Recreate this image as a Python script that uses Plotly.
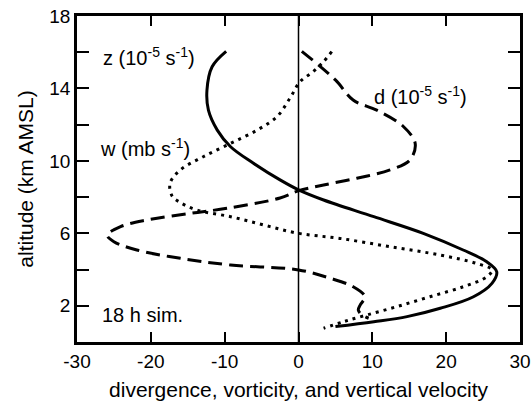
import plotly.graph_objects as go

# vorticity z (10^-5 s^-1)
z_x = [-9.8, -11.7, -12.4, -12.2, -11.0, -9.2, -6.1, -2.5, 0.0, 3.4, 10.2, 16.9, 22.3, 25.5, 26.85, 26.2, 23.7, 19.2, 14.7, 10.2, 5.0]
z_y = [16.05, 15.2, 13.9, 12.8, 11.7, 10.78, 9.87, 8.95, 8.4, 7.84, 6.92, 6.0, 5.08, 4.43, 3.88, 3.24, 2.5, 1.86, 1.4, 1.12, 0.85]

# vertical velocity w (mb s^-1)
w_x = [4.5, 3.4, 2.0, 0.2, -1.1, -2.9, -5.6, -9.2, -12.9, -16.0, -17.4, -17.1, -16.0, -13.8, -9.2, -4.7, 0.0, 5.6, 12.4, 19.2, 24.1, 26.2, 25.5, 22.3, 17.8, 13.3, 9.25, 6.1, 3.4]
w_y = [16.03, 15.48, 14.93, 14.37, 13.5, 12.45, 11.7, 10.97, 10.23, 9.5, 8.76, 8.05, 7.7, 7.29, 6.92, 6.46, 6.0, 5.72, 5.26, 4.8, 4.34, 3.98, 3.6, 3.05, 2.5, 1.95, 1.49, 1.12, 0.76]

# divergence d (10^-5 s^-1)
d_x = [0.45, 5.0, 7.4, 10.6, 14.2, 15.8, 15.1, 12.4, 7.9, 3.4, 0.0, -2.5, -9.7, -14.7, -20.5, -24.1, -25.9, -25.0, -21.9, -16.0, -9.2, 0.0, 4.3, 7.4, 9.0, 8.35, 8.1, 8.6, 9.5]
d_y = [16.05, 14.47, 13.36, 12.8, 11.9, 10.97, 10.05, 9.5, 9.04, 8.67, 8.35, 7.95, 7.38, 7.1, 6.74, 6.37, 5.9, 5.54, 5.08, 4.62, 4.25, 3.98, 3.52, 3.05, 2.5, 2.04, 1.77, 1.49, 1.31]

x_range = [-30, 30]
y_range = [0, 18]
x_ticks = [-30, -20, -10, 0, 10, 20, 30]
y_ticks = [2, 4, 6, 8, 10, 12, 14, 16, 18]
y_labels = ["2", " ", "6", " ", "10", " ", "14", " ", "18"]

FONT = "Liberation Sans, Arial, Helvetica, sans-serif"

fig = go.Figure()
fig.add_trace(go.Scatter(x=z_x, y=z_y, mode="lines",
                         line=dict(color="black", width=3, shape="spline", smoothing=1.0), showlegend=False))
fig.add_trace(go.Scatter(x=w_x, y=w_y, mode="lines",
                         line=dict(color="black", width=3, dash="3px,5px", shape="spline", smoothing=1.0), showlegend=False))
fig.add_trace(go.Scatter(x=d_x, y=d_y, mode="lines",
                         line=dict(color="black", width=3, dash="14px,7px", shape="spline", smoothing=1.0), showlegend=False))

# zero line
fig.add_shape(type="line", x0=0, x1=0, y0=y_range[0], y1=y_range[1], xref="x", yref="y",
              line=dict(color="black", width=1.5))

ann = [
    ("z (10<sup>-5</sup> s<sup>-1</sup>)", -26.7, 15.75),
    ("w (mb s<sup>-1</sup>)", -27.1, 10.75),
    ("d (10<sup>-5</sup> s<sup>-1</sup>)", 10.0, 13.6),
    ("18 h sim.", -26.9, 1.5),
]
for t, x, y in ann:
    fig.add_annotation(text=t, x=x, y=y, xref="x", yref="y", xanchor="left", yanchor="middle",
                       showarrow=False, font=dict(family=FONT, size=20, color="black"))

fig.update_xaxes(range=x_range, tickmode="array", tickvals=x_ticks, ticktext=[str(v) for v in x_ticks],
                 ticks="inside", ticklen=10, tickwidth=2, tickcolor="black",
                 showline=True, linewidth=2.5, linecolor="black", mirror="ticks",
                 showgrid=False, zeroline=False, automargin=False, ticklabeloverflow="allow",
                 tickfont=dict(family=FONT, size=19, color="black"),
                 title=dict(text="divergence, vorticity, and vertical velocity",
                            font=dict(family=FONT, size=21, color="black"), standoff=12))
fig.update_yaxes(range=y_range, tickmode="array", tickvals=y_ticks, ticktext=y_labels,
                 ticks="inside", ticklen=12, tickwidth=2, tickcolor="black",
                 showline=True, linewidth=2.5, linecolor="black", mirror="ticks",
                 showgrid=False, zeroline=False, automargin=False, ticklabeloverflow="allow",
                 tickfont=dict(family=FONT, size=19, color="black"),
                 title=dict(text="altitude (km AMSL)",
                            font=dict(family=FONT, size=21, color="black"), standoff=10))

fig.update_layout(width=531, height=408, margin=dict(l=77, r=11, t=16, b=66),
                  plot_bgcolor="white", paper_bgcolor="white")

fig.write_html("out.html")
